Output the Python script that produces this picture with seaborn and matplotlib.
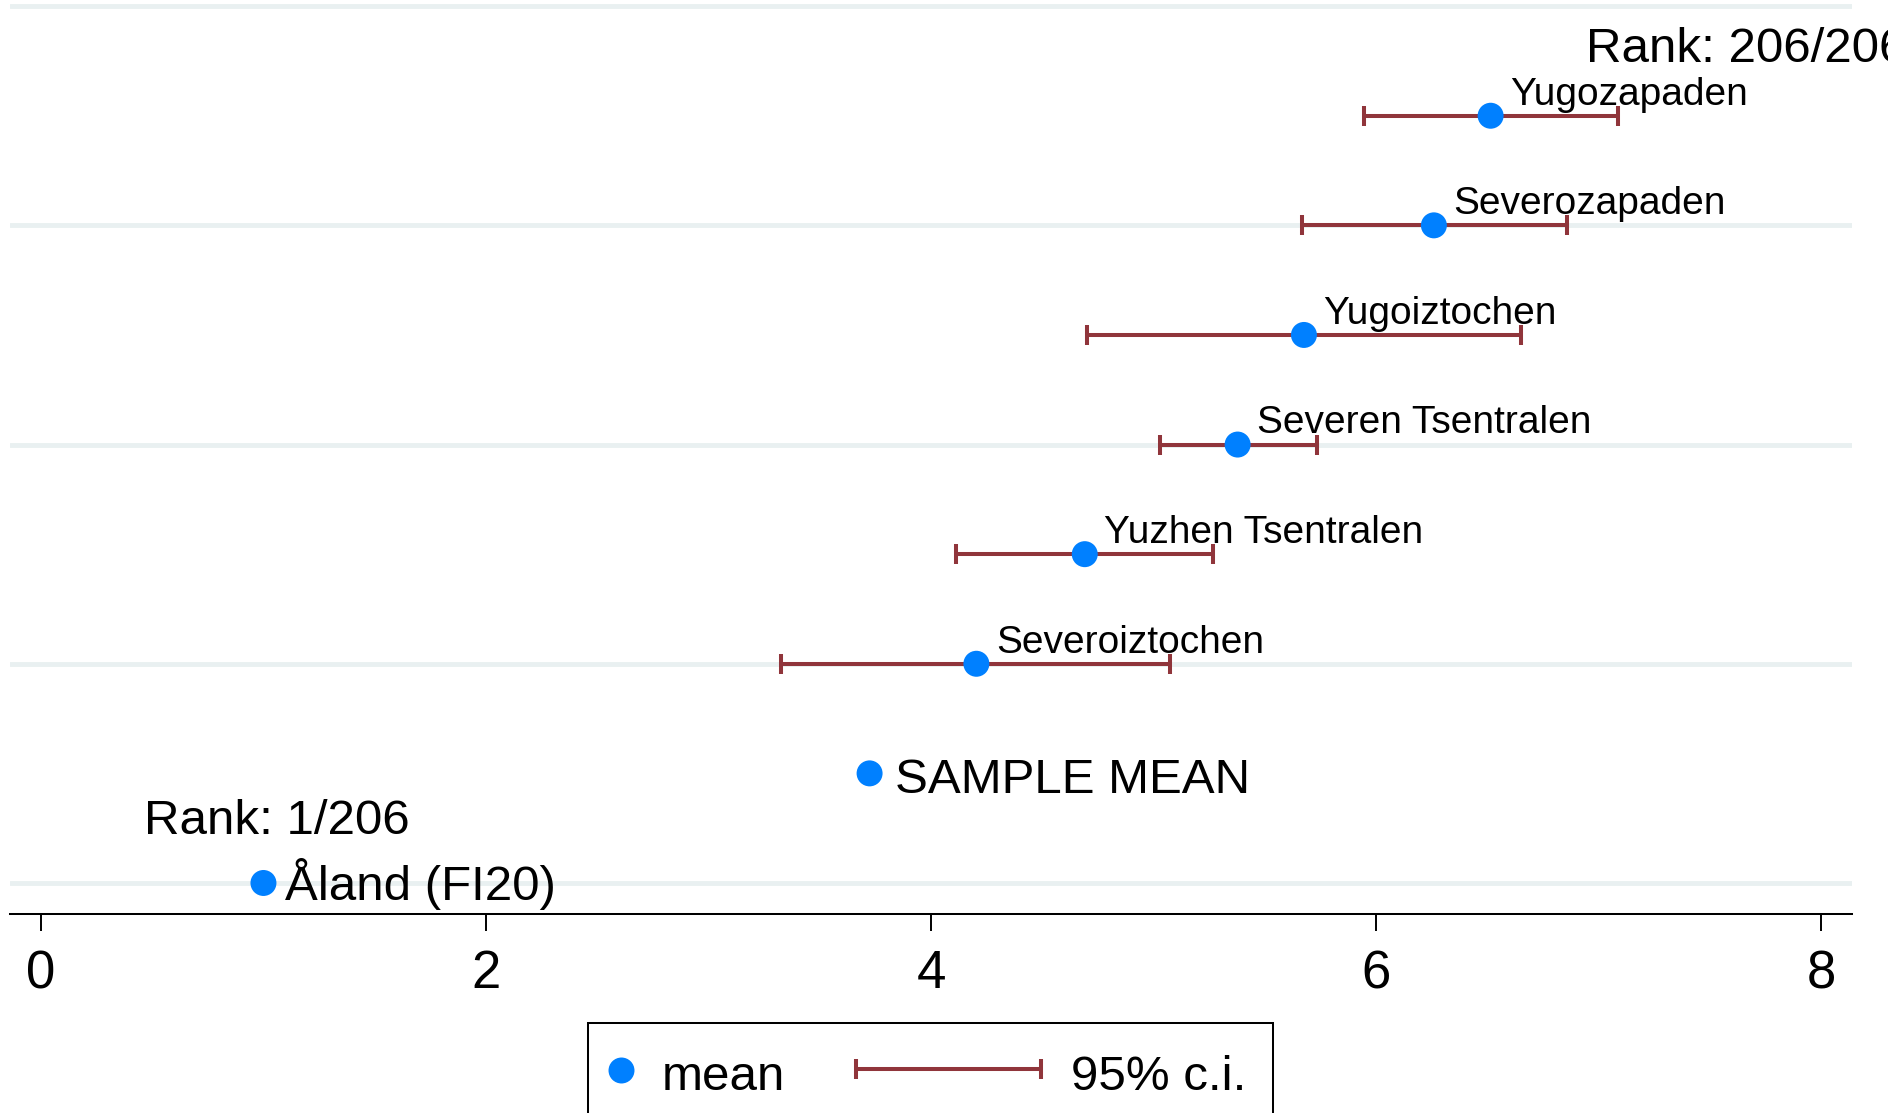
import matplotlib
matplotlib.use("Agg")
import matplotlib.pyplot as plt
from matplotlib.lines import Line2D
from matplotlib.patches import Rectangle
import numpy as np
import seaborn as sns

# --- data
regions = ["Severoiztochen", "Yuzhen Tsentralen", "Severen Tsentralen",
           "Yugoiztochen", "Severozapaden", "Yugozapaden"]
region_mean = [4.204, 4.691, 5.378, 5.676, 6.260, 6.515]
ci_low = [3.325, 4.114, 5.028, 4.702, 5.666, 5.948]
ci_high = [5.076, 5.269, 5.735, 6.650, 6.858, 7.088]
region_row = [2, 3, 4, 5, 6, 7]

sample_label = "SAMPLE MEAN"
sample_mean = 3.724
sample_row = 1

best_label = "Åland (FI20)"
best_mean = 1.0
best_row = 0

n_regions = 206
x_ticks = [0, 2, 4, 6, 8]
grid_rows = [0, 2, 4, 6, 8]

BLUE = "#0080ff"
MAROON = "#90353b"
GRID = "#e9f0f1"

sns.set_style("white")
plt.rcParams["font.family"] = ["Liberation Sans", "DejaVu Sans"]
plt.rcParams["text.color"] = "black"
plt.rcParams["xtick.color"] = "black"
plt.rcParams["xtick.labelcolor"] = "black"

W, H = 1888, 1113
fig = plt.figure(figsize=(W / 100, H / 100), dpi=100)
ax = fig.add_axes([10 / W, 1 - 914 / H, (1852 - 10) / W, 914 / H])

# gridlines
ax.set_yticks(grid_rows)
ax.yaxis.grid(True, color=GRID, linewidth=3.5)
ax.xaxis.grid(False)
ax.tick_params(axis="y", left=False, labelleft=False)

# confidence intervals
lo = np.array(ci_low)
hi = np.array(ci_high)
mu = np.array(region_mean)
ax.errorbar(mu, region_row, xerr=[mu - lo, hi - mu], fmt="none",
            ecolor=MAROON, elinewidth=2.9, capsize=7.45, capthick=2.9, zorder=2)

# means
all_x = region_mean + [sample_mean, best_mean]
all_y = region_row + [sample_row, best_row]
sns.scatterplot(x=all_x, y=all_y, ax=ax, s=350, color=BLUE,
                edgecolor="none", zorder=3, legend=False)

# labels
for name, x, y in zip(regions, region_mean, region_row):
    ax.annotate(name, (x, y), xytext=(14, 8), textcoords="offset points",
                fontsize=28, va="baseline", ha="left", zorder=4)
ax.annotate(sample_label, (sample_mean, sample_row), xytext=(18.5, -13.9),
            textcoords="offset points", fontsize=35.5, va="baseline")
ax.annotate(best_label, (best_mean, best_row), xytext=(15.5, -12.5),
            textcoords="offset points", fontsize=35.5, va="baseline")
ax.annotate(f"Rank: 1/{n_regions}", (best_mean, best_row), xytext=(9.4, 35),
            textcoords="offset points", fontsize=35.5, va="baseline", ha="center")
ax.annotate(f"Rank: {n_regions}/{n_regions}", (region_mean[-1], region_row[-1]),
            xytext=(69, 38.5), textcoords="offset points", fontsize=35.5,
            va="baseline", ha="left", annotation_clip=False)

ax.set_xlim(-0.139, 8.139)
ax.set_ylim(-0.283, 8.056)
ax.set_xticks(x_ticks)
ax.tick_params(axis="x", bottom=True, direction="out", length=12.5, width=1.4,
               labelsize=38, pad=13, color="black", labelcolor="black")
for side in ["left", "right", "top"]:
    ax.spines[side].set_visible(False)
ax.spines["bottom"].set_linewidth(1.45)
ax.spines["bottom"].set_color("black")
ax.set_xlabel("")
ax.set_ylabel("")


# --- legend box, drawn in figure coordinates
def fx(px):
    return px / W


def fy(py):
    return 1 - py / H


fig.add_artist(Rectangle((fx(588), fy(1125)), fx(1273) - fx(588), fy(1023) - fy(1125),
                         transform=fig.transFigure, facecolor="white",
                         edgecolor="black", linewidth=1.45))
fig.add_artist(Line2D([fx(621)], [fy(1070)], transform=fig.transFigure,
                      marker="o", markersize=18.7, color=BLUE, mec="none", ls="none"))
fig.text(fx(662), fy(1090), "mean", fontsize=35.5, va="baseline")
fig.add_artist(Line2D([fx(856), fx(1041)], [fy(1069.3), fy(1069.3)],
                      transform=fig.transFigure, color=MAROON, linewidth=2.9,
                      marker="|", markersize=14.9, markeredgewidth=2.9))
fig.text(fx(1071), fy(1090), "95% c.i.", fontsize=35.5, va="baseline")

fig.savefig("out.png", dpi=100)
